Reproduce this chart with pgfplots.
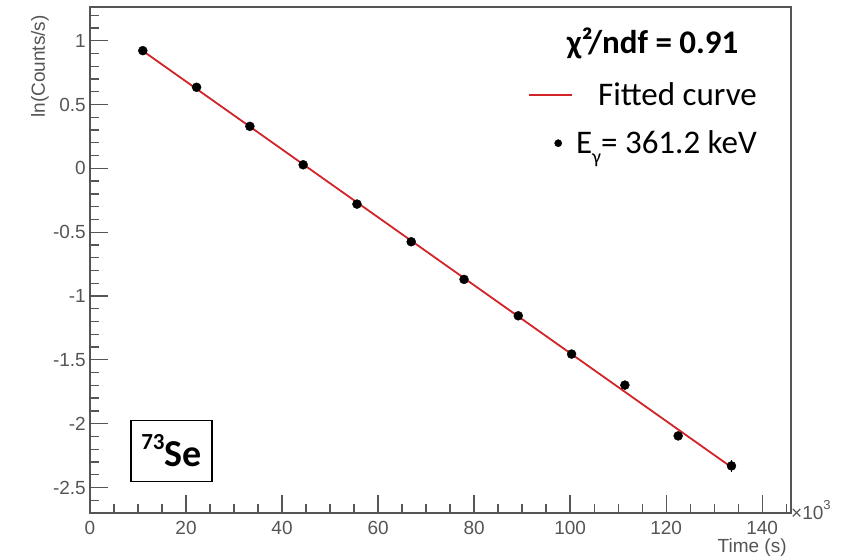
\documentclass[border=0pt]{standalone}
\usepackage{fontspec}
\setmainfont{Liberation Sans}
\newfontfamily\calibri{Carlito}
\usepackage{pgfplots}
\usepackage{pgfplotstable}
\pgfplotsset{compat=1.18}

\definecolor{axisgray}{RGB}{85,85,85}
\definecolor{fitred}{RGB}{210,35,40}

% time in 10^3 s, ln(counts/s), error
\pgfplotstableread{
x      y       ey
11.0   0.922   0.012
22.2   0.635   0.012
33.3   0.329   0.012
44.4   0.028   0.013
55.6  -0.280   0.014
66.9  -0.575   0.015
77.9  -0.870   0.017
89.2  -1.155   0.020
100.3 -1.455   0.022
111.4 -1.698   0.026
122.5 -2.096   0.032
133.6 -2.331   0.045
}\decaydata

\begin{document}
\begin{tikzpicture}
\useasboundingbox (-90pt,-46pt) rectangle (771pt,513pt);
\begin{axis}[
    at={(0pt,0pt)}, anchor=south west,
    scale only axis, width=701pt, height=506pt,
    xmin=0, xmax=146, ymin=-2.7, ymax=1.264,
    axis line style={axisgray, line width=1.5pt},
    tick style={axisgray, line width=1.3pt},
    major tick length=18pt, minor tick length=9pt,
    tick align=inside, tick pos=left,
    xtick={0,20,...,140}, xticklabels={0,20,40,60,80,100,120,140},
    ytick={-2.5,-2,...,1}, yticklabels={-2.5,-2,-1.5,-1,-0.5,0,0.5,1},
    minor xtick={0,5,...,145}, minor ytick={-2.7,-2.6,...,1.25},
    tick label style={font=\fontsize{19}{19}\selectfont, text=axisgray, inner sep=0pt},
    xticklabel style={yshift=-8.5pt},
    yticklabel style={xshift=-4pt},
    xlabel={Time (s)},
    xlabel style={at={(axis description cs:0.994,-0.05)}, anchor=north east,
        inner sep=0pt, font=\fontsize{19}{19}\selectfont, text=axisgray},
    ylabel={ln(Counts/s)},
    ylabel style={at={(axis description cs:-0.0585,0.984)}, anchor=south east,
        inner sep=0pt, font=\fontsize{19}{19}\selectfont, text=axisgray},
    reverse legend,
    legend cell align=right,
    legend style={at={(axis description cs:0.9558,0.855)}, anchor=north east,
        draw=none, fill=none, font=\calibri\fontsize{33}{38}\selectfont,
        nodes={inner sep=0pt}, row sep=24pt, column sep=3pt},
    clip=false,
]
\addplot[only marks, mark=*, mark size=4.5pt, black,
    legend image code/.code={\fill[black] (29pt,0pt) circle (3.6pt); \path[draw=none, fill=none] (0pt,0pt) rectangle (43pt,0.1pt);},
    error bars/.cd, y dir=both, y explicit, error mark=none,
    error bar style={black, line width=1.5pt}]
    table[x=x, y=y, y error=ey] {\decaydata};
\addlegendentry{E\raisebox{-0.28em}{\fontsize{20}{20}\selectfont γ}= 361.2 keV}
\addplot[fitred, line width=1.8pt, no marks,
    legend image code/.code={\draw[fitred, line width=1.8pt] (0pt,0pt) -- (43pt,0pt);}]
    coordinates {(11.0,0.920) (134.0,-2.352)};
\addlegendentry{Fitted curve}

\node[anchor=west, inner sep=0pt, font=\fontsize{19}{19}\selectfont, text=axisgray]
    at (rel axis cs:1,0.006) {×10\raisebox{0.5em}{\fontsize{13}{13}\selectfont 3}};
\node[font=\calibri\bfseries\fontsize{33}{33}\selectfont, inner sep=0pt]
    at (rel axis cs:0.8025,0.929) {χ²/ndf = 0.91};
\node[draw=black, line width=1.3pt, fill=white, minimum width=81pt, minimum height=61pt,
    inner sep=0pt, font=\calibri\bfseries\fontsize{38}{38}\selectfont]
    at (rel axis cs:0.1163,0.1225) {\raisebox{0.45em}{\fontsize{23}{23}\selectfont 73}Se};
\end{axis}
\end{tikzpicture}
\end{document}
